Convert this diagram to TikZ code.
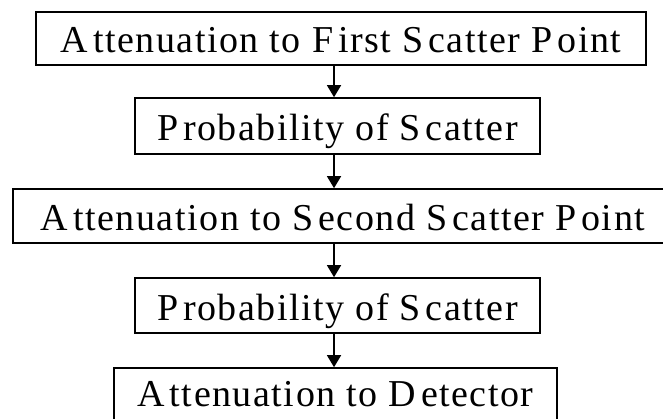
\documentclass[tikz,border=0pt]{standalone}
\usepackage{fontspec}
\setmainfont{Liberation Serif}[LetterSpace=4]
\usetikzlibrary{arrows.meta}
\newcommand{\kk}{\kern5pt}
\begin{document}
\begin{tikzpicture}[x=1pt,y=-1pt,
  box/.style={draw, line width=1.6pt, inner sep=0pt, text height=29pt, text depth=0pt,
    font=\fontsize{38}{42}\selectfont},
  arr/.style={-{Triangle[width=14pt,length=12pt]}, line width=1.4pt}]
\useasboundingbox (0,0) rectangle (663,419);
\clip (0,0) rectangle (663,419);
\node[box, minimum width=610pt, minimum height=53pt] (b1) at (341,38.5)
  {A\kk ttenuation to F\kk irst S\kk catter P\kk oint};
\node[box, minimum width=405pt, minimum height=56pt] (b2) at (337.5,126)
  {P\kk robability of S\kk catter};
\node[box, minimum width=660pt, minimum height=54pt] (b3) at (343,216)
  {A\kk ttenuation to S\kk econd S\kk catter P\kk oint};
\node[box, minimum width=405pt, minimum height=55pt] (b4) at (337.5,305.5)
  {P\kk robability of S\kk catter};
\node[box, minimum width=443pt, minimum height=56pt, text depth=7.6pt] (b5) at (335.5,396)
  {A\kk ttenuation to D\kk etector};
\coordinate (ax) at (334,0);
\draw[arr] (b1.south -| ax) -- (b2.north -| ax);
\draw[arr] (b2.south -| ax) -- (b3.north -| ax);
\draw[arr] (b3.south -| ax) -- (b4.north -| ax);
\draw[arr] (b4.south -| ax) -- (b5.north -| ax);
\end{tikzpicture}
\end{document}
